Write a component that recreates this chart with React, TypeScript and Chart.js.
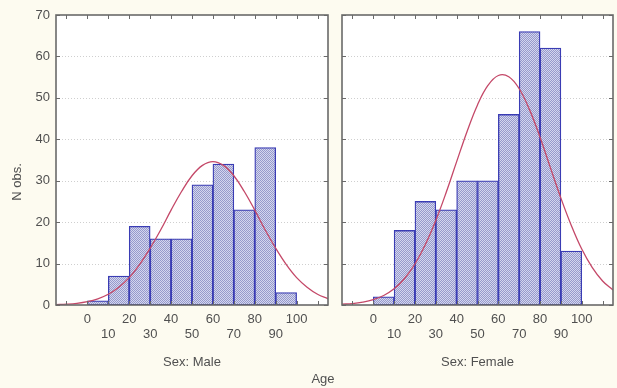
import React, { useEffect, useRef } from 'react';
import { Chart, registerables } from 'chart.js';

Chart.register(...registerables);

// ---- data ----
const binCenters = [5, 15, 25, 35, 45, 55, 65, 75, 85, 95];
const maleCounts = [1, 7, 19, 16, 16, 29, 34, 23, 38, 3];
const femaleCounts = [2, 18, 25, 23, 30, 30, 46, 66, 62, 13];

const curveX = [-15, -10, -5, 0, 5, 10, 15, 20, 25, 30, 35, 40, 45, 50, 55, 60, 65, 70, 75, 80, 85, 90, 95, 100, 105, 110, 115];
const maleCurve = [0.1, 0.2, 0.4, 0.8, 1.5, 2.6, 4.3, 6.6, 9.8, 13.7, 18.1, 22.9, 27.4, 31.2, 33.7, 34.6, 33.7, 31.2, 27.4, 22.9, 18.1, 13.7, 9.8, 6.6, 4.3, 2.6, 1.5];
const femaleCurve = [0.2, 0.35, 0.7, 1.3, 2.3, 3.9, 6.4, 9.9, 14.6, 20.4, 27.2, 34.6, 41.9, 48.3, 53.0, 55.4, 55.1, 52.2, 47.1, 40.5, 33.1, 25.8, 19.2, 13.5, 9.1, 5.8, 3.6];

const xTickValues = [-10, 0, 10, 20, 30, 40, 50, 60, 70, 80, 90, 100, 110];
const yTickValues = [0, 10, 20, 30, 40, 50, 60, 70];
const gridValues = [10, 20, 30, 40, 50, 60];
const panelTitles = ['Sex: Male', 'Sex: Female'];
const yTitle = 'N obs.';
const xTitle = 'Age';

const FONT = '"Liberation Sans", Arial, sans-serif';
const TEXT = '#505050';
const FRAME = '#6a6a6a';

function makePattern(): CanvasPattern | string {
  const c = document.createElement('canvas');
  c.width = 2;
  c.height = 2;
  const g = c.getContext('2d');
  if (!g) return '#babdde';
  g.fillStyle = '#d4d6ee';
  g.fillRect(0, 0, 2, 2);
  g.fillStyle = '#969acc';
  g.fillRect(0, 0, 1, 1);
  g.fillRect(1, 1, 1, 1);
  return g.createPattern(c, 'repeat') || '#babdde';
}

function framePlugin(title: string, isLeft: boolean) {
  return {
    id: 'frame' + (isLeft ? 'L' : 'R'),
    beforeDraw(chart: any) {
      const { ctx, chartArea: a } = chart;
      ctx.save();
      ctx.fillStyle = '#ffffff';
      ctx.fillRect(a.left, a.top, a.right - a.left, a.bottom - a.top);
      ctx.restore();
    },
    beforeDatasetsDraw(chart: any) {
      const { ctx, chartArea: a, scales } = chart;
      ctx.save();
      ctx.strokeStyle = '#cfcfcf';
      ctx.lineWidth = 1;
      ctx.setLineDash([1, 2]);
      gridValues.forEach((v) => {
        const y = Math.round(scales.y.getPixelForValue(v)) + 0.5;
        ctx.beginPath();
        ctx.moveTo(a.left, y);
        ctx.lineTo(a.right, y);
        ctx.stroke();
      });
      ctx.restore();
    },
    afterDatasetsDraw(chart: any) {
      const { ctx, chartArea: a, scales } = chart;
      ctx.save();
      ctx.strokeStyle = FRAME;
      ctx.lineWidth = 1;
      const tl = 4;
      xTickValues.forEach((v) => {
        const x = Math.round(scales.x.getPixelForValue(v)) + 0.5;
        ctx.beginPath();
        ctx.moveTo(x, a.top);
        ctx.lineTo(x, a.top + tl);
        ctx.moveTo(x, a.bottom);
        ctx.lineTo(x, a.bottom - tl);
        ctx.stroke();
      });
      yTickValues.forEach((v) => {
        const y = Math.round(scales.y.getPixelForValue(v)) + 0.5;
        ctx.beginPath();
        ctx.moveTo(a.left, y);
        ctx.lineTo(a.left + tl, y);
        ctx.moveTo(a.right, y);
        ctx.lineTo(a.right - tl, y);
        ctx.stroke();
      });
      ctx.lineWidth = 1.6;
      ctx.strokeRect(a.left, a.top, a.right - a.left, a.bottom - a.top);
      ctx.restore();
    },
    afterDraw(chart: any) {
      const { ctx, chartArea: a } = chart;
      ctx.save();
      ctx.fillStyle = TEXT;
      ctx.font = '13px ' + FONT;
      ctx.textAlign = 'center';
      ctx.textBaseline = 'middle';
      ctx.fillText(title, (a.left + a.right) / 2, 362);
      if (isLeft) {
        ctx.fillText(xTitle, 323, 379);
        ctx.translate(17, 182);
        ctx.rotate(-Math.PI / 2);
        ctx.fillText(yTitle, 0, 0);
      }
      ctx.restore();
    },
  };
}

function makeConfig(counts: number[], curve: number[], title: string, isLeft: boolean): any {
  const pattern = makePattern();
  return {
    type: 'bar',
    data: {
      datasets: [
        {
          type: 'line',
          data: curveX.map((x, i) => ({ x, y: curve[i] })),
          borderColor: '#c44868',
          borderWidth: 1.3,
          pointRadius: 0,
          tension: 0.4,
          fill: false,
          order: 0,
        },
        {
          type: 'bar',
          data: binCenters.map((x, i) => ({ x, y: counts[i] })),
          backgroundColor: pattern,
          borderColor: '#3a3cb4',
          borderWidth: 1.3,
          borderSkipped: false,
          barPercentage: 1,
          categoryPercentage: 1,
          order: 1,
        },
      ],
    },
    options: {
      animation: false,
      responsive: false,
      maintainAspectRatio: false,
      layout: { padding: { top: 15, right: isLeft ? 7 : 4, left: 0, bottom: 0 } },
      plugins: { legend: { display: false }, tooltip: { enabled: false } },
      scales: {
        x: {
          type: 'linear',
          offset: false,
          min: -15,
          max: 115,
          grid: { display: false, drawTicks: false, offset: false },
          border: { display: false },
          afterBuildTicks: (s: any) => {
            s.ticks = xTickValues.map((v) => ({ value: v }));
          },
          afterFit: (s: any) => {
            s.height = 83;
          },
          ticks: {
            autoSkip: false,
            maxRotation: 0,
            minRotation: 0,
            padding: 7,
            color: TEXT,
            font: { family: FONT, size: 13, lineHeight: 1.15 },
            callback: (v: any) => {
              const n = Number(v);
              if (n < 0 || n > 100) return '';
              return n % 20 === 0 ? [String(n)] : ['', String(n)];
            },
          },
        },
        y: {
          type: 'linear',
          min: 0,
          max: 70,
          grid: { display: false, drawTicks: false },
          border: { display: false },
          afterBuildTicks: (s: any) => {
            s.ticks = yTickValues.map((v) => ({ value: v }));
          },
          afterFit: (s: any) => {
            s.width = isLeft ? 56 : 7;
          },
          ticks: {
            display: isLeft,
            padding: 6,
            color: TEXT,
            font: { family: FONT, size: 13 },
          },
        },
      },
    },
    plugins: [framePlugin(title, isLeft)],
  };
}

export default function App() {
  const leftRef = useRef<HTMLCanvasElement>(null);
  const rightRef = useRef<HTMLCanvasElement>(null);

  useEffect(() => {
    const charts: Chart[] = [];
    if (leftRef.current) charts.push(new Chart(leftRef.current, makeConfig(maleCounts, maleCurve, panelTitles[0], true)));
    if (rightRef.current) charts.push(new Chart(rightRef.current, makeConfig(femaleCounts, femaleCurve, panelTitles[1], false)));
    return () => charts.forEach((c) => c.destroy());
  }, []);

  return (
    <div
      style={{
        position: 'absolute',
        left: 0,
        top: 0,
        width: 617,
        height: 388,
        background: '#fdfbf0',
        overflow: 'hidden',
      }}
    >
      <canvas
        ref={leftRef}
        width={335}
        height={388}
        style={{ position: 'absolute', left: 0, top: 0, width: 335, height: 388 }}
      />
      <canvas
        ref={rightRef}
        width={282}
        height={388}
        style={{ position: 'absolute', left: 335, top: 0, width: 282, height: 388 }}
      />
    </div>
  );
}
